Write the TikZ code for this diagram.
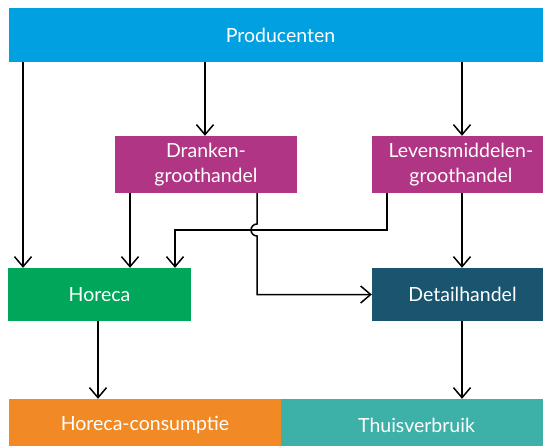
\documentclass[tikz,border=0pt]{standalone}
\usepackage{fontspec}
\setmainfont{Lato}
\usetikzlibrary{arrows.meta}
\definecolor{cblue}{RGB}{0,160,225}
\definecolor{cmag}{RGB}{176,53,133}
\definecolor{cgreen}{RGB}{0,166,90}
\definecolor{cdark}{RGB}{26,85,112}
\definecolor{corange}{RGB}{241,138,36}
\definecolor{cteal}{RGB}{61,176,168}
\tikzset{
  box/.style={rectangle, inner sep=0pt, text=white, align=center,
    font=\fontsize{19.5}{25}\selectfont},
  arr/.style={line width=1.5pt, black, -{Straight Barb[length=10pt,width=17pt,line width=1.5pt]}},
  ln/.style={line width=1.5pt, black}
}
\begin{document}
\begin{tikzpicture}[x=1pt,y=-1pt]
\clip (0,0) rectangle (543,445);
\fill[white] (0,0) rectangle (543,445);
\node[box, fill=cblue, minimum width=543pt, minimum height=54pt] (prod) at (280.5,35) {Producenten};
\node[box, fill=cmag, minimum width=182pt, minimum height=57pt] (dranken) at (206,164.5) {Dranken-\\groothandel};
\node[box, fill=cmag, minimum width=178pt, minimum height=57pt] (levens) at (461,164.5) {Levensmiddelen-\\groothandel};
\node[box, fill=cgreen, minimum width=183pt, minimum height=53pt] (horeca) at (99.5,294.5) {Horeca};
\node[box, fill=cdark, minimum width=181pt, minimum height=53pt] (detail) at (462.5,294.5) {Detailhandel};
\node[box, fill=corange, minimum width=272pt, minimum height=52pt] (hcons) at (145,425) {Horeca-consumptie};
\node[box, fill=cteal, minimum width=271pt, minimum height=52pt] (thuis) at (416.5,425) {Thuisverbruik};
\coordinate (xa) at (23,0);
\coordinate (xb) at (205,0);
\coordinate (xc) at (462,0);
\coordinate (xd) at (130,0);
\coordinate (xe) at (257,0);
\coordinate (xf) at (387,0);
\coordinate (xg) at (175,0);
\coordinate (xh) at (98,0);
\coordinate (ya) at (0,230);
\coordinate (yb) at (0,224);
\coordinate (yc) at (0,236);
\draw[arr] (prod.south -| xa) -- (horeca.north -| xa);
\draw[arr] (prod.south -| xb) -- (dranken.north -| xb);
\draw[arr] (prod.south -| xc) -- (levens.north -| xc);
\draw[arr] (dranken.south -| xd) -- (horeca.north -| xd);
\draw[arr] (levens.south -| xc) -- (detail.north -| xc);
\draw[arr] (levens.south -| xf) -- (xf |- ya) -- (xg |- ya) -- (horeca.north -| xg);
\draw[arr] (dranken.south -| xe) -- (xe |- yb) arc[start angle=90, end angle=270, radius=6pt] -- (xe |- detail.west) -- (detail.west);
\draw[arr] (horeca.south -| xh) -- (hcons.north -| xh);
\draw[arr] (detail.south -| xc) -- (thuis.north -| xc);
\end{tikzpicture}
\end{document}
